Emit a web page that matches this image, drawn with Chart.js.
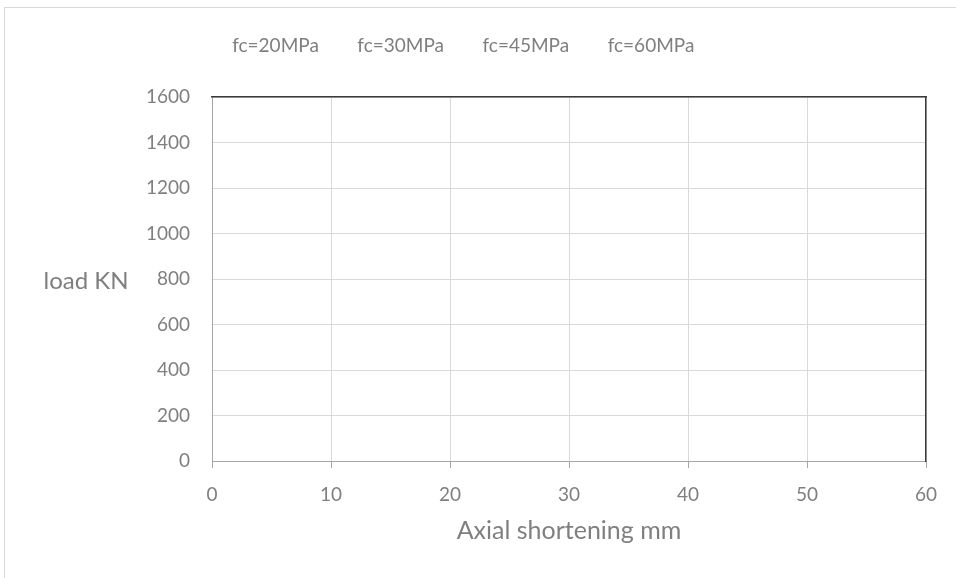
<!DOCTYPE html>
<html>
<head>
<meta charset="utf-8">
<script src="https://cdn.jsdelivr.net/npm/chart.js@4.4.1/dist/chart.umd.min.js"></script>
<style>
  html, body { margin: 0; padding: 0; background: #ffffff; }
  #wrap { position: relative; width: 956px; height: 578px; overflow: hidden; }
  #frame {
    position: absolute; left: 4px; top: 7px; width: 1000px; height: 600px;
    border-top: 1px solid #d9d9d9; border-left: 1px solid #d9d9d9; box-sizing: border-box;
  }
  #chart { position: absolute; left: 0; top: 0; }
</style>
</head>
<body>
<div id="wrap">
  <div id="frame"></div>
  <canvas id="chart" width="956" height="578"></canvas>
</div>
<script>
// Load–shortening curves per concrete strength (no points recorded yet)
const seriesLabels = ['fc=20MPa', 'fc=30MPa', 'fc=45MPa', 'fc=60MPa'];
const fc20 = [];
const fc30 = [];
const fc45 = [];
const fc60 = [];

// Axis ticks
const xTicks = [0, 10, 20, 30, 40, 50, 60];
const yTicks = [0, 200, 400, 600, 800, 1000, 1200, 1400, 1600];

const xTitle = 'Axial shortening mm';
const yTitle = 'load KN';

const seriesColors = ['#4472C4', '#ED7D31', '#A5A5A5', '#FFC000'];
const textColor = '#7f7f7f';
const FONT = 'Lato, "Open Sans", sans-serif';

const seriesData = [fc20, fc30, fc45, fc60];

// Horizontal y-axis caption placed to the left of the tick labels
const yCaption = {
  id: 'yCaption',
  afterDraw(chart) {
    const { ctx, chartArea } = chart;
    ctx.save();
    ctx.font = '24px ' + FONT;
    ctx.fillStyle = textColor;
    ctx.textAlign = 'center';
    ctx.textBaseline = 'middle';
    ctx.fillText(yTitle, 86, (chartArea.top + chartArea.bottom) / 2 + 2);
    ctx.restore();
  }
};

// Nudge the legend row a little to the left of the canvas centre
const legendShift = {
  id: 'legendShift',
  afterLayout(chart) {
    if (chart.legend) {
      chart.legend.left -= 14;
      chart.legend.right -= 14;
    }
  }
};

new Chart(document.getElementById('chart'), {
  type: 'scatter',
  data: {
    datasets: seriesLabels.map((label, i) => ({
      label,
      data: seriesData[i],
      showLine: true,
      borderColor: seriesColors[i],
      backgroundColor: seriesColors[i],
      borderWidth: 2,
      pointRadius: 0
    }))
  },
  options: {
    responsive: false,
    animation: false,
    layout: { padding: { top: 26.5, right: 30, left: 0, bottom: 0 } },
    plugins: {
      tooltip: { enabled: false },
      legend: {
        position: 'top',
        labels: {
          color: textColor,
          font: { family: FONT, size: 19 },
          boxWidth: 19,
          boxHeight: 0,
          padding: 10,
          generateLabels(chart) {
            return Chart.defaults.plugins.legend.labels.generateLabels(chart).map(l => ({
              ...l,
              lineWidth: 0,
              fillStyle: 'rgba(0,0,0,0)',
              strokeStyle: 'rgba(0,0,0,0)'
            }));
          }
        }
      }
    },
    scales: {
      x: {
        type: 'linear',
        position: 'bottom',
        min: 0,
        max: 60,
        afterBuildTicks(scale) { scale.ticks = xTicks.map(v => ({ value: v })); },
        afterFit(scale) { scale.height = 117; },
        grid: { color: '#d9d9d9', drawTicks: true, tickLength: 7, tickColor: '#a6a6a6' },
        border: { color: '#a6a6a6', width: 1 },
        ticks: { color: textColor, font: { family: FONT, size: 19 }, padding: 15, maxRotation: 0,
                 callback: v => String(v) },
        title: {
          display: true,
          text: xTitle,
          color: textColor,
          font: { family: FONT, size: 25 },
          padding: { top: 0, bottom: 32 }
        }
      },
      y: {
        type: 'linear',
        position: 'left',
        min: 0,
        max: 1600,
        afterBuildTicks(scale) { scale.ticks = yTicks.map(v => ({ value: v })); },
        afterFit(scale) { scale.width = 212; },
        grid: { color: '#d9d9d9', drawTicks: false },
        border: { color: '#a6a6a6', width: 1 },
        ticks: { color: textColor, font: { family: FONT, size: 19 }, padding: 22,
                 callback: v => String(v) }
      },
      xTop: {
        type: 'linear',
        position: 'top',
        min: 0,
        max: 60,
        z: 1,
        afterFit(scale) { scale.height = 31.5; },
        grid: { display: false, drawTicks: false },
        border: { color: '#3a3a3a', width: 1.5 },
        ticks: { display: false }
      },
      yRight: {
        type: 'linear',
        position: 'right',
        min: 0,
        max: 1600,
        z: 1,
        afterFit(scale) { scale.width = 0; },
        grid: { display: false, drawTicks: false },
        border: { color: '#3a3a3a', width: 1.5 },
        ticks: { display: false }
      }
    }
  },
  plugins: [yCaption, legendShift]
});
</script>
</body>
</html>
